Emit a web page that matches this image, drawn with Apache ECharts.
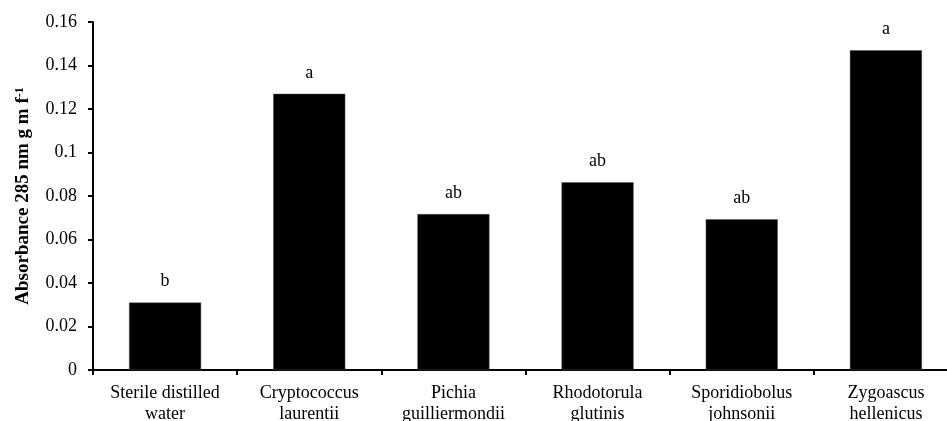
<!DOCTYPE html>
<html>
<head>
<meta charset="utf-8">
<script src="https://cdn.jsdelivr.net/npm/echarts@6/dist/echarts.min.js"></script>
<style>
html,body{margin:0;padding:0;background:#fff;}
#chart{width:947px;height:421px;}
</style>
</head>
<body>
<div id="chart"></div>
<script>
const categories = ['Sterile distilled\nwater', 'Cryptococcus\nlaurentii', 'Pichia\nguilliermondii', 'Rhodotorula\nglutinis', 'Sporidiobolus\njohnsonii', 'Zygoascus\nhellenicus'];
const values = [0.031, 0.127, 0.0717, 0.0863, 0.0693, 0.147];
const letters = ['b', 'a', 'ab', 'ab', 'ab', 'a'];
const yTicks = { min: 0, max: 0.16, interval: 0.02 };

const font = '"Liberation Serif", "Times New Roman", serif';
const chart = echarts.init(document.getElementById('chart'));
chart.setOption({
  animation: false,
  backgroundColor: '#fff',
  grid: { left: 93, top: 22, bottom: 51, width: 865, containLabel: false, outerBoundsMode: 'none' },
  xAxis: {
    type: 'category',
    data: categories,
    axisLine: { lineStyle: { color: '#000', width: 2 } },
    axisTick: { show: true, length: 5, lineStyle: { color: '#000', width: 2 } },
    axisLabel: { color: '#000', fontFamily: font, fontSize: 18, lineHeight: 21, margin: 13, interval: 0 }
  },
  yAxis: {
    type: 'value',
    min: yTicks.min, max: yTicks.max, interval: yTicks.interval,
    splitLine: { show: false },
    axisLine: { show: true, lineStyle: { color: '#000', width: 2 } },
    axisTick: { show: true, length: 5, lineStyle: { color: '#000', width: 2 } },
    axisLabel: { color: '#000', fontFamily: font, fontSize: 18, margin: 16 },
    name: '{t|Absorbance 285 nm g m f}{s|-1}',
    nameLocation: 'middle',
    nameGap: 60,
    nameRotate: 90,
    nameTextStyle: {
      rich: {
        t: { fontFamily: font, fontSize: 19, fontWeight: 'bold', color: '#000' },
        s: { fontFamily: font, fontSize: 12, fontWeight: 'bold', color: '#000', verticalAlign: 'top', padding: [0,0,7,0] }
      }
    }
  },
  series: [{
    type: 'bar',
    data: values,
    barWidth: '50%',
    itemStyle: { color: '#000', borderColor: '#555', borderWidth: 0.5 },
    label: {
      show: true,
      position: 'top',
      distance: 12,
      color: '#000',
      fontFamily: font,
      fontSize: 18,
      formatter: p => letters[p.dataIndex]
    }
  }]
});
</script>
</body>
</html>
